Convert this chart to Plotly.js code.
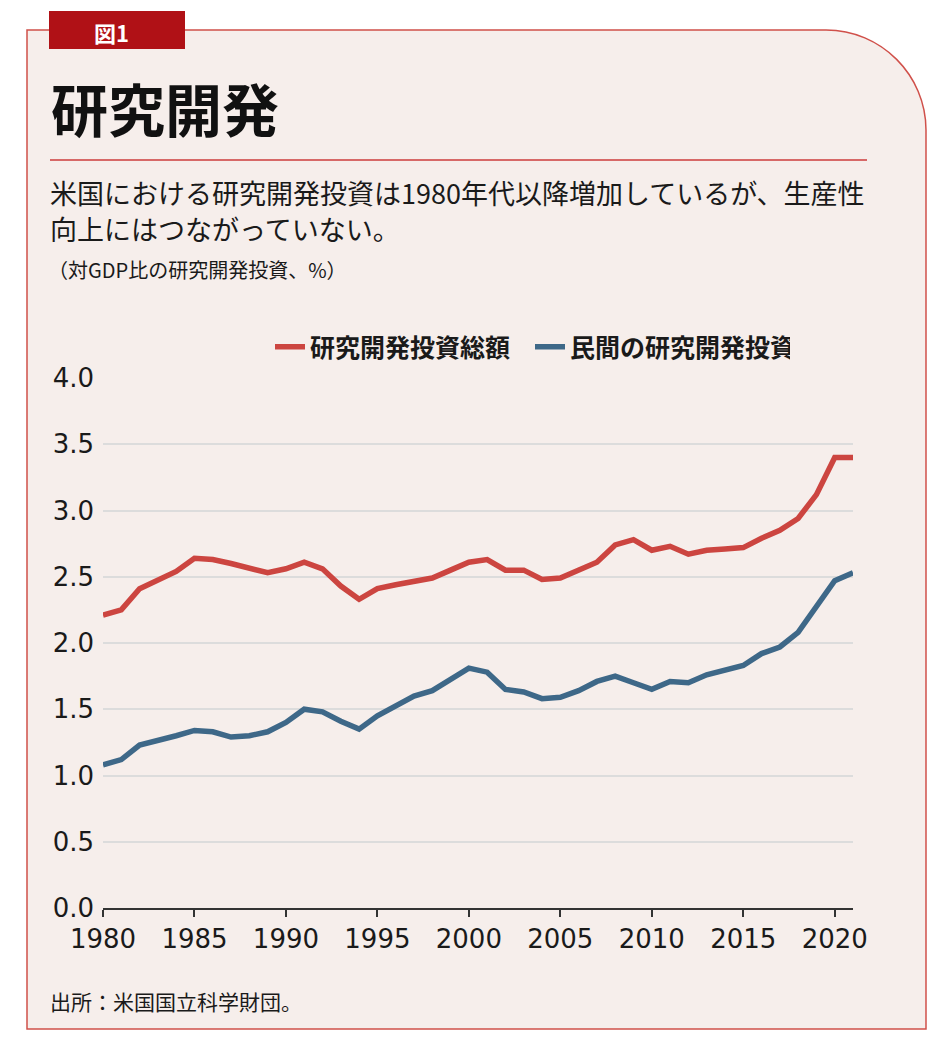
<!DOCTYPE html>
<html>
<head>
<meta charset="utf-8">
<script src="https://cdn.plot.ly/plotly-3.0.1.min.js"></script>
<style>html,body{margin:0;padding:0;background:#fff;}#chart{width:950px;height:1055px;}</style>
</head>
<body>
<div id="chart"></div>
<script>
const years = [1980,1981,1982,1983,1984,1985,1986,1987,1988,1989,1990,1991,1992,1993,1994,1995,1996,1997,1998,1999,2000,2001,2002,2003,2004,2005,2006,2007,2008,2009,2010,2011,2012,2013,2014,2015,2016,2017,2018,2019,2020,2021];
const totalRD = [2.21,2.25,2.41,2.48,2.54,2.64,2.63,2.60,2.56,2.53,2.56,2.61,2.56,2.43,2.33,2.41,2.44,2.47,2.49,2.55,2.61,2.63,2.55,2.55,2.48,2.49,2.55,2.61,2.74,2.78,2.70,2.73,2.67,2.70,2.71,2.72,2.79,2.85,2.94,3.12,3.40,3.40];
const privateRD = [1.08,1.12,1.23,1.26,1.30,1.34,1.33,1.29,1.30,1.33,1.40,1.50,1.48,1.41,1.35,1.45,1.53,1.60,1.64,1.72,1.81,1.78,1.65,1.63,1.58,1.59,1.64,1.71,1.75,1.70,1.65,1.71,1.70,1.76,1.80,1.83,1.92,1.97,2.08,2.28,2.47,2.53];
const seriesNames = ['研究開発投資総額','民間の研究開発投資'];
const yTickVals = [0,0.5,1,1.5,2,2.5,3,3.5,4];
const xTickVals = [1980,1985,1990,1995,2000,2005,2010,2015,2020];
const xTickText = ['1980','1985','1990','1995','2000','2005','2010','2015','2020'];

const ML = 103, MR = 97, MT = 378, MB = 147, W = 950, H = 1055;
const PW = W - ML - MR, PH = H - MT - MB;
const px = x => (x - ML) / PW;
const py = y => (H - MB - y) / PH;
const P = (x, y) => px(x).toFixed(5) + ',' + py(y).toFixed(5);

const CJK = '"Noto Sans CJK JP", "Noto Sans", sans-serif';
const NUM = '"DejaVu Sans", sans-serif';

const R = 100, K = 55;
const panelPath = 'M ' + P(27,30) + ' L ' + P(926 - R,30) +
  ' C ' + P(926 - R + K,30) + ' ' + P(926,130 - K) + ' ' + P(926,30 + R) +
  ' L ' + P(926,1029) + ' L ' + P(27,1029) + ' Z';

const traces = [
  {x: years, y: totalRD, name: seriesNames[0], type: 'scatter', mode: 'lines',
   line: {color: '#cc4540', width: 5.5}},
  {x: years, y: privateRD, name: seriesNames[1], type: 'scatter', mode: 'lines',
   line: {color: '#3e6888', width: 5.5}}
];

function ann(text, x, y, size, opts) {
  return Object.assign({text: text, x: px(x), y: py(y), xref: 'paper', yref: 'paper',
    xanchor: 'left', yanchor: 'middle', showarrow: false,
    font: {family: CJK, size: size, color: '#1a1a1a'}}, opts || {});
}

const layout = {
  width: W, height: H,
  margin: {l: ML, r: MR, t: MT, b: MB, pad: 0},
  paper_bgcolor: '#ffffff',
  plot_bgcolor: 'rgba(0,0,0,0)',
  showlegend: true,
  legend: {orientation: 'h', x: px(270), y: py(347), xanchor: 'left', yanchor: 'middle',
    font: {family: CJK, size: 25, color: '#1a1a1a', weight: 'bold'},
    bgcolor: 'rgba(0,0,0,0)', itemwidth: 30, tracegroupgap: 0,
    entrywidth: 215, entrywidthmode: 'pixels'},
  xaxis: {range: [1980, 2021], tickvals: xTickVals, ticktext: xTickText,
    showgrid: false, zeroline: false, showline: true, linecolor: '#333333', linewidth: 2,
    ticks: 'outside', ticklen: 7, tickwidth: 2, tickcolor: '#333333',
    tickfont: {family: NUM, size: 26, color: '#1a1a1a'}, fixedrange: true},
  yaxis: {range: [0, 4], tickvals: yTickVals, tickformat: '.1f',
    showgrid: true, gridcolor: '#dcdcdc', gridwidth: 2, zeroline: false, showline: false,
    ticks: '', ticklabelstandoff: 8,
    tickfont: {family: NUM, size: 26, color: '#1a1a1a'}, fixedrange: true},
  shapes: [
    {type: 'path', xref: 'paper', yref: 'paper', path: panelPath, layer: 'below',
     fillcolor: '#f6eeeb', line: {color: '#d0504a', width: 1.5}},
    {type: 'rect', xref: 'paper', yref: 'paper', x0: px(49), x1: px(185), y0: py(49), y1: py(11),
     fillcolor: '#b01116', line: {width: 0}, layer: 'above'},
    {type: 'line', xref: 'paper', yref: 'paper', x0: px(50), x1: px(867), y0: py(160), y1: py(160),
     line: {color: '#cc3b3b', width: 1.5}}
  ],
  annotations: [
    ann('図1', 111, 32, 22, {xanchor: 'center', font: {family: CJK, size: 22, color: '#ffffff', weight: 'bold'}}),
    ann('研究開発', 49, 107, 57, {font: {family: CJK, size: 57, color: '#111111', weight: 'bold'}}),
    ann('米国における研究開発投資は1980年代以降増加しているが、生産性', 48, 193, 27),
    ann('向上にはつながっていない。', 48, 229, 27),
    ann('（対GDP比の研究開発投資、%）', 46, 269, 20),
    ann('出所：米国国立科学財団。', 48, 1001, 21)
  ]
};

Plotly.newPlot('chart', traces, layout, {displayModeBar: false, staticPlot: true});
</script>
</body>
</html>
